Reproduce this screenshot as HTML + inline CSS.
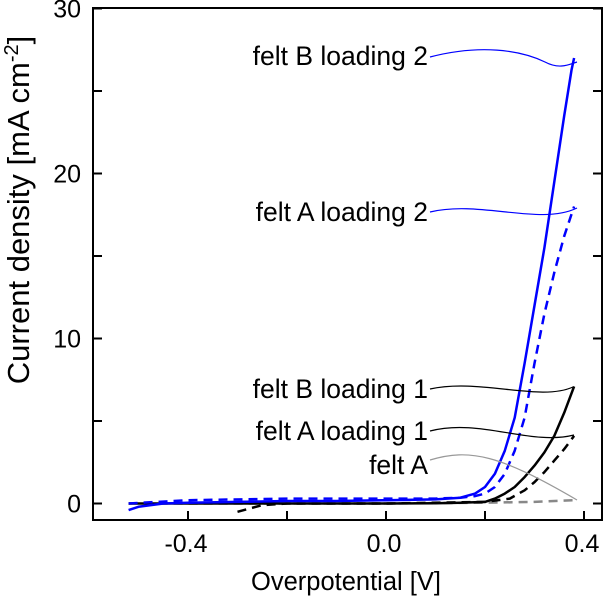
<!DOCTYPE html>
<html><head><meta charset="utf-8"><style>
body{margin:0;background:#fff;}
svg text{font-family:"Liberation Sans",sans-serif;}
</style></head><body>
<svg id="chart" width="605" height="600" viewBox="0 0 605 600">
<g id="series"></g>
<g id="axes"></g>
</svg>
<script>
const xTicks=[-0.4,-0.2,0.0,0.2,0.4];
const xTickLabels=["-0.4","","0.0","","0.4"];
const yTicks=[0,5,10,15,20,25,30];
const yTickLabels=["0","","10","","20","","30"];
const vBlue=[-0.52,-0.5,-0.45,-0.4,-0.3,-0.2,-0.1,0,0.1,0.15,0.18,0.2,0.22,0.24,0.26,0.28,0.3,0.32,0.34,0.36,0.375,0.38];
const iBlueSolid=[-0.4,-0.2,0,0.05,0.1,0.15,0.15,0.2,0.25,0.35,0.6,1.0,1.8,3.2,5.2,8.5,12,15.5,19.5,23.5,26.3,27];
const vBlueD=[-0.52,-0.4,-0.2,0,0.1,0.15,0.18,0.2,0.22,0.24,0.26,0.28,0.3,0.32,0.34,0.36,0.38];
const iBlueDashed=[0,0.2,0.3,0.3,0.3,0.35,0.45,0.6,1.0,1.8,3.2,5.2,8.5,11.5,14,16.2,18];
const vBlack=[-0.52,-0.2,0,0.1,0.15,0.2,0.22,0.24,0.26,0.28,0.3,0.32,0.34,0.36,0.38];
const iBlackSolid=[0,0,0,0.02,0.05,0.1,0.3,0.6,1.0,1.6,2.3,3.1,4.1,5.5,7.1];
const vBlackD=[-0.3,-0.25,-0.2,0,0.2,0.25,0.28,0.3,0.32,0.34,0.36,0.38];
const iBlackDashed=[-0.5,-0.1,0,0,0.1,0.3,0.8,1.3,1.9,2.6,3.3,4.1];
const vGray=[-0.52,-0.2,0,0.2,0.3,0.38];
const iGrayDashed=[0,0,0,0.05,0.1,0.2];
const X=v=>386+(v/0.2)*99;
const Y=i=>503.5-i*16.5;
const NS="http://www.w3.org/2000/svg";
const sg=document.getElementById('series'), ag=document.getElementById('axes');
function mk(tag,attrs,parent){const e=document.createElementNS(NS,tag);for(const k in attrs)e.setAttribute(k,attrs[k]);parent.appendChild(e);return e;}
function line(vs,is,stroke,dash,name,w){
  const d=vs.map((v,k)=>(k?'L':'M')+X(v).toFixed(1)+' '+Y(is[k]).toFixed(1)).join(' ');
  const p=mk('path',{d:d,fill:'none',stroke:stroke,'stroke-width':w||2.5,'stroke-dasharray':dash||'none','stroke-linejoin':'round'},sg);
  
  
}
line(vGray,iGrayDashed,'#888','9,6','felt-a-dashed-line');
line(vBlackD,iBlackDashed,'#000','9,6','felt-a-loading1-dashed-line');
line(vBlack,iBlackSolid,'#000','','felt-b-loading1-line');
line(vBlueD,iBlueDashed,'#0000ff','9,6','felt-a-loading2-dashed-line');
line(vBlue,iBlueSolid,'#0000ff','','felt-b-loading2-line');
const conns=[
 ["M430 57 C 480 44, 520 50, 545 62 C 560 70, 570 64, 577 62","#0000ff","connector-b2"],
 ["M430 212 C 480 200, 540 226, 577 208","#0000ff","connector-a2"],
 ["M430 389 C 480 378, 540 402, 573 387","#000","connector-b1"],
 ["M430 431 C 480 418, 530 446, 574 435","#000","connector-a1"],
 ["M430 460 C 470 448, 500 455, 577 500","#999","connector-felt-a"]];
conns.forEach(c=>{const p=mk('path',{d:c[0],fill:'none',stroke:c[1],'stroke-width':1.2},sg);
 
 });
const labels=[["felt B loading 2",65],["felt A loading 2",221],["felt B loading 1",398],["felt A loading 1",440],["felt A",474]];
labels.forEach(l=>{const t=mk('text',{x:428,y:l[1],'text-anchor':'end','font-size':26.5,fill:'#000'},sg);t.textContent=l[0];
 
 });
const fr=mk('rect',{x:93,y:8,width:509,height:512,fill:'none',stroke:'#000','stroke-width':2},ag);


xTicks.forEach((v,k)=>{mk('line',{x1:X(v),x2:X(v),y1:520,y2:511,stroke:'#000','stroke-width':2},ag);
 if(xTickLabels[k]){const t=mk('text',{x:X(v)-2,y:552,'text-anchor':'middle','font-size':25},ag);t.textContent=xTickLabels[k];
 
 }});
yTicks.forEach((v,k)=>{mk('line',{x1:93,x2:102,y1:Y(v),y2:Y(v),stroke:'#000','stroke-width':2},ag);
 mk('line',{x1:602,x2:593,y1:Y(v),y2:Y(v),stroke:'#000','stroke-width':2},ag);
 if(yTickLabels[k]){const t=mk('text',{x:81,y:Y(v)+9,'text-anchor':'end','font-size':25},ag);t.textContent=yTickLabels[k];
 
 }});
</script>
<svg style="position:absolute;left:0;top:0" width="605" height="600">
<text x="346" y="590" text-anchor="middle" font-size="25.5" font-family="Liberation Sans">Overpotential [V]</text>
<text transform="translate(29,210) rotate(-90)" text-anchor="middle" font-size="31" font-family="Liberation Sans">Current density [mA cm<tspan dy="-11" font-size="20">-2</tspan><tspan dy="11">]</tspan></text>
</svg>
</body></html>
